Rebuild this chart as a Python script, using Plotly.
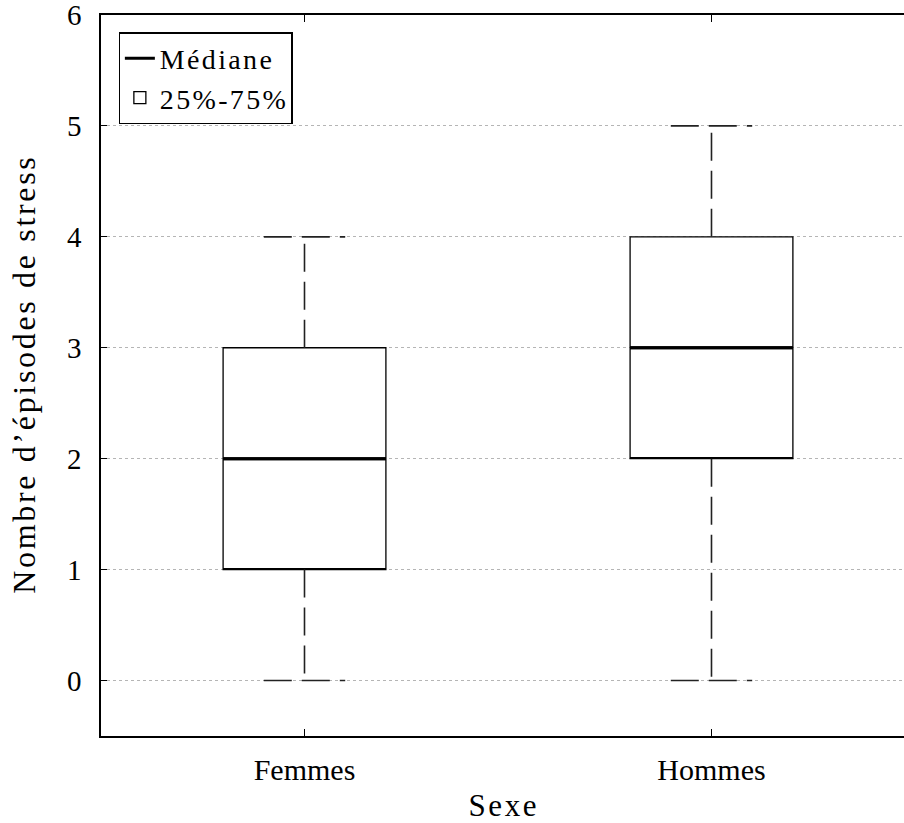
import plotly.graph_objects as go

categories = ["Femmes", "Hommes"]
minimum = [0, 0]
q1 = [1, 2]
median = [2, 3]
q3 = [3, 4]
maximum = [4, 5]

pos = list(range(len(categories)))
box_half = 0.2
cap_half = 0.1

FONT = "Liberation Serif, Times New Roman, serif"
HS = "\u200a"


def spaced(s):
    return HS.join(list(s))


fig = go.Figure()

# whiskers (dashed)
for i in pos:
    fig.add_trace(go.Scatter(
        x=[i, i, None, i, i, None, i - cap_half, i + cap_half, None, i - cap_half, i + cap_half],
        y=[q3[i], maximum[i], None, q1[i], minimum[i], None, maximum[i], maximum[i], None, minimum[i], minimum[i]],
        mode="lines", line=dict(color="#222", width=1.6, dash="28px,10px"),
        showlegend=False, hoverinfo="skip"))

# median lines
mx, my = [], []
for i in pos:
    mx += [i - box_half, i + box_half, None]
    my += [median[i], median[i], None]
fig.add_trace(go.Scatter(
    x=mx, y=my, mode="lines", line=dict(color="black", width=3),
    name=spaced("Médiane"), legendrank=1, hoverinfo="skip"))

# boxes
fig.add_trace(go.Box(
    x=pos, q1=q1, median=q1, q3=q3, lowerfence=q1, upperfence=q3,
    width=2 * box_half, fillcolor="white", line=dict(color="black", width=1.3),
    name=spaced("25%-75%"), legendrank=2, hoverinfo="skip"))
# redraw median on top
fig.add_trace(go.Scatter(
    x=mx, y=my, mode="lines", line=dict(color="black", width=3),
    showlegend=False, hoverinfo="skip"))

fig.update_layout(
    width=904, height=823,
    margin=dict(l=101, r=0, t=15, b=87),
    plot_bgcolor="white", paper_bgcolor="white",
    font=dict(family=FONT, size=26, color="black"),
    showlegend=True,
    legend=dict(x=0.022, y=0.976, xanchor="left", yanchor="top",
                bgcolor="white", bordercolor="black", borderwidth=1.2,
                font=dict(size=28), traceorder="normal", itemwidth=30,
                tracegroupgap=0),
    xaxis=dict(range=[-0.5, 1.473], tickvals=pos, ticktext=categories,
               showgrid=False, zeroline=False, showline=True, linecolor="black",
               linewidth=1.5, mirror="ticks", ticks="inside", ticklen=7,
               tickcolor="black", tickfont=dict(size=30),
               ticklabelstandoff=6,
               title=dict(text=spaced("Sexe"), font=dict(size=31), standoff=12)),
    yaxis=dict(range=[-0.5, 6], tickvals=[0, 1, 2, 3, 4, 5, 6],
               showgrid=True, gridcolor="#b5b5b5", griddash="dot", gridwidth=1,
               zeroline=False, showline=True, linecolor="black", linewidth=1.5,
               ticks="inside", ticklen=6, tickcolor="black",
               tickfont=dict(size=29), ticklabelstandoff=12,
               ticklabeloverflow="allow",
               title=dict(text=spaced("Nombre d’épisodes de stress"), font=dict(size=32), standoff=22)),
)

fig.write_html(
    "out.html",
    config={"displayModeBar": False},
    post_script="document.body.style.margin='0';document.body.style.overflow='hidden';",
)
